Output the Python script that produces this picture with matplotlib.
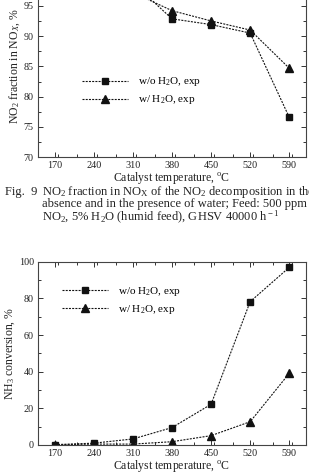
import numpy as np
import matplotlib.pyplot as plt
from matplotlib.ticker import MultipleLocator

plt.rcParams['font.family'] = ['Liberation Serif', 'DejaVu Serif']
plt.rcParams['mathtext.fontset'] = 'custom'
plt.rcParams['mathtext.rm'] = 'Liberation Serif'
plt.rcParams['mathtext.it'] = 'Liberation Serif:italic'
plt.rcParams['mathtext.bf'] = 'Liberation Serif:bold'

temps = [170, 240, 310, 380, 450, 520, 590]

# Fig. 9 - NO2 fraction in NOx (first points lie above the cropped page edge)
no2_dry = [100.0, 99.8, 98.8, 92.85, 91.9, 90.5, 76.6]
no2_wet = [100.0, 99.5, 97.2, 94.2, 92.5, 91.0, 84.7]

# NH3 conversion
nh3_dry = [0.2, 1.0, 3.3, 9.5, 22.2, 78.2, 96.9]
nh3_wet = [0.1, 0.5, 0.5, 1.8, 5.1, 12.7, 39.1]

lab_dry = r'w/o H$_2$O, exp'
lab_wet = r'w/ H$_2$O, exp'
xlab = r'Catalyst temperature, $^{\rm o}$C'

W, H = 309, 474
fig = plt.figure(figsize=(W / 100, H / 100), dpi=100)


def px(x0, y0, x1, y1):
    # pixel box (left, top, right, bottom) -> figure fraction rect
    return [x0 / W, 1 - y1 / H, (x1 - x0) / W, (y1 - y0) / H]


def style(ax, ymaj, ymin):
    ax.set_xlim(140, 620)
    ax.set_xticks(temps)
    ax.xaxis.set_minor_locator(MultipleLocator(35))
    ax.yaxis.set_major_locator(MultipleLocator(ymaj))
    ax.yaxis.set_minor_locator(MultipleLocator(ymin))
    ax.tick_params(which='both', direction='in', top=True, right=True,
                   labelsize=7.3, colors='#333333', labelcolor='#222222', width=0.7)
    ax.tick_params(which='major', length=3.5, pad=3)
    ax.tick_params(which='minor', length=2)
    for s in ax.spines.values():
        s.set_color('#444444')
        s.set_linewidth(0.8)


def draw(ax, ydry, ywet):
    kw = dict(color='#111111', linestyle=(0, (1.8, 1.1)), linewidth=0.8)
    ax.plot(temps, ydry, marker='s', markersize=5, label=lab_dry, **kw)
    ax.plot(temps, ywet, marker='^', markersize=5.5, label=lab_wet, **kw)


def legend(ax, x, y):
    ax.legend(loc='center left', bbox_to_anchor=(x / W, 1 - y / H), bbox_transform=fig.transFigure,
              frameon=False, fontsize=8, numpoints=1, handlelength=4.1, handletextpad=0.9,
              labelspacing=0.45, borderpad=0, borderaxespad=0)


# top chart (its upper part is cut off by the page crop)
ax1 = fig.add_axes(px(38, -24.5, 306, 157.3))
draw(ax1, no2_dry, no2_wet)
ax1.set_ylim(70, 100)
style(ax1, 5, 2.5)
ax1.set_yticks([70, 75, 80, 85, 90, 95])
ax1.set_xlabel(xlab, fontsize=8.5, labelpad=0, color='#222222')
ax1.set_ylabel(r'NO$_2$ fraction in NO$_X$, %', fontsize=8.5, labelpad=1.5, color='#222222')
legend(ax1, 82, 91)

# caption
cap_kw = dict(fontsize=9, color='#222222', va='center', ha='left')
fig.text(5 / W, 1 - 192 / H, 'Fig.  9', **cap_kw)
fig.text(41.7 / W, 1 - 192 / H,
         r'NO$_2$ fraction in NO$_{\rm X}$ of the NO$_2$ decomposition in the', **cap_kw)
fig.text(41.7 / W, 1 - 204.5 / H,
         'absence and in the presence of water; Feed: 500 ppm', **cap_kw)
fig.text(41.7 / W, 1 - 217 / H,
         r'NO$_2$, 5% H$_2$O (humid feed), GHSV 40000 h$^{\rm -1}$', **cap_kw)

# bottom chart
ax2 = fig.add_axes(px(38, 261.7, 306, 445))
draw(ax2, nh3_dry, nh3_wet)
ax2.set_ylim(0, 100)
style(ax2, 20, 10)
ax2.set_xlabel(xlab, fontsize=8.5, labelpad=0, color='#222222')
ax2.set_ylabel(r'NH$_3$ conversion, %', fontsize=8.5, labelpad=1.5, color='#222222')
legend(ax2, 62, 300.5)

fig.savefig('out.png', dpi=100)
